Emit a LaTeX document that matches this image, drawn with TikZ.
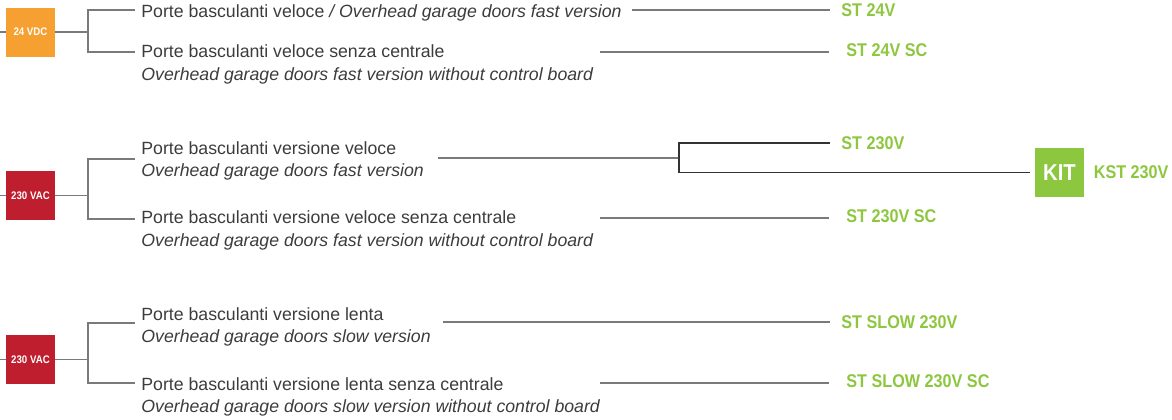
\documentclass[tikz,border=0pt]{standalone}
\usepackage{fontspec}
\setmainfont{Liberation Sans}
\newfontfamily\condfont[FakeStretch=0.88]{Liberation Sans}
\usepackage{tikz}
\usetikzlibrary{
  positioning,
  calc
}
\definecolor{stOrange}{HTML}{F5A030}
\definecolor{stRed}{HTML}{BE1E2D}
\definecolor{stGreen}{HTML}{8DC63F}
\definecolor{stText}{HTML}{3C3C3C}
\definecolor{stWire}{HTML}{7A7A7A}
\tikzset{
  psbox/.style={
    minimum width=24.5pt, minimum height=24.5pt, inner sep=0pt,
    text=white, font=\condfont\bfseries\fontsize{5.5}{6}\selectfont
  },
  vdc/.style={psbox, fill=stOrange},
  vac/.style={psbox, fill=stRed},
  kitbox/.style={psbox, fill=stGreen, font=\condfont\bfseries\fontsize{11.5}{12}\selectfont},
  itline/.style={anchor=base west, inner sep=0pt, text=stText, font=\fontsize{8.85}{11}\selectfont},
  enline/.style={itline, font=\fontsize{8.85}{11}\selectfont\itshape},
  model/.style={anchor=west, inner sep=0pt, text=stGreen, font=\condfont\bfseries\fontsize{9.2}{11}\selectfont},
  wire/.style={draw=stWire, line width=0.75pt},
  fork/.style={draw=black!80, line width=0.55pt}
}

\begin{document}
\begin{tikzpicture}[x=0.5pt, y=-0.5pt]
  \useasboundingbox (0,0) rectangle (1172,419);

  % power supply boxes
  \node[vdc] (vdc) at (30.5,32) {24 VDC};
  \node[vac] (vac1) at (30.5,195.5) {230 VAC};
  \node[vac] (vac2) at (30.5,359.5) {230 VAC};

  \coordinate (in1) at (0,32);
  \coordinate (in2) at (0,195.5);
  \coordinate (in3) at (0,359.5);
  \coordinate (j1) at (88,32);
  \coordinate (j2) at (88,195.5);
  \coordinate (j3) at (88,359.5);
  \coordinate (b1) at (135,10);
  \coordinate (b2) at (135,52);
  \coordinate (b3) at (135,159);
  \coordinate (b4) at (135,219);
  \coordinate (b5) at (135,323);
  \coordinate (b6) at (135,383);

  \draw[wire] (in1) -- (vdc.west) (vdc.east) -- (j1) (j1) |- (b1) (j1) |- (b2);
  \draw[wire] (in2) -- (vac1.west) (vac1.east) -- (j2) (j2) |- (b3) (j2) |- (b4);
  \draw[wire] (in3) -- (vac2.west) (vac2.east) -- (j3) (j3) |- (b5) (j3) |- (b6);

  % door types
  \node[itline] (t1) at (141,17) {Porte basculanti veloce \textit{/ Overhead garage doors fast version}};
  \node[itline] (t2) at (141,57) {Porte basculanti veloce senza centrale};
  \node[enline] (t2en) at (141,80) {Overhead garage doors fast version without control board};
  \node[itline] (t3) at (141,154) {Porte basculanti versione veloce};
  \node[enline] (t3en) at (141,176) {Overhead garage doors fast version};
  \node[itline] (t4) at (141,223) {Porte basculanti versione veloce senza centrale};
  \node[enline] (t4en) at (141,246) {Overhead garage doors fast version without control board};
  \node[itline] (t5) at (141,320) {Porte basculanti versione lenta};
  \node[enline] (t5en) at (141,342) {Overhead garage doors slow version};
  \node[itline] (t6) at (141,390) {Porte basculanti versione lenta senza centrale};
  \node[enline] (t6en) at (141,412) {Overhead garage doors slow version without control board};

  % models
  \node[model] (st24) at (841,10) {ST 24V};
  \node[model] (st24sc) at (846,50) {ST 24V SC};
  \node[model] (st230) at (841,143) {ST 230V};
  \node[model] (st230sc) at (846,216) {ST 230V SC};
  \node[model] (stslow) at (841,322) {ST SLOW 230V};
  \node[model] (stslowsc) at (846,381) {ST SLOW 230V SC};
  \node[kitbox] (kit) at (1059.5,172.5) {KIT};
  \node[model, right=4.5pt of kit] (kst) {KST 230V};

  \coordinate (r1) at (632,10);
  \coordinate (r2) at (600,52);
  \coordinate (r3) at (438,158);
  \coordinate (r4) at (600,218);
  \coordinate (r5) at (443,322);
  \coordinate (r6) at (600,383);
  \coordinate (f1) at (679,158);

  \draw[wire] (r1) -- ($(r1 -| st24.west)+(-11,0)$);
  \draw[wire] (r2) -- ($(r2 -| st24sc.west)+(-17,0)$);
  \draw[wire] (r4) -- ($(r4 -| st230sc.west)+(-17,0)$);
  \draw[wire] (r5) -- ($(r5 -| stslow.west)+(-11,0)$);
  \draw[wire] (r6) -- ($(r6 -| stslowsc.west)+(-17,0)$);
  \draw[wire] (r3) -- (f1);
  \draw[fork] (f1) |- ($(st230.west)+(-11,0)$);
  \draw[fork] (f1) |- ($(kit.west)+(-5,0)$);
\end{tikzpicture}
\end{document}
